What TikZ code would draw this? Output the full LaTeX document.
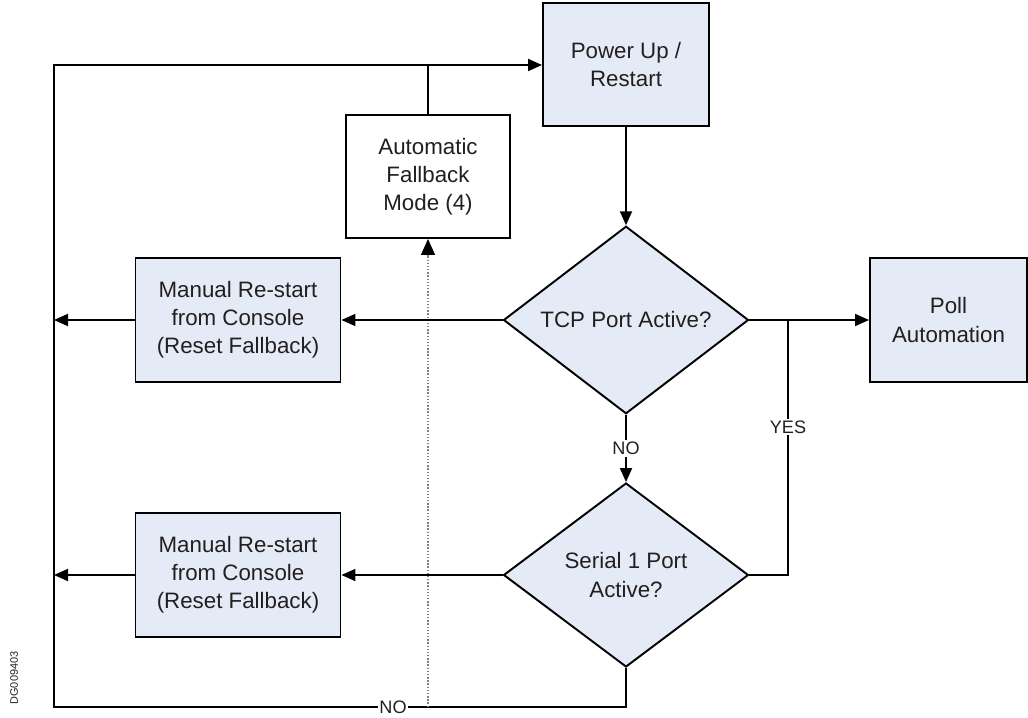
\documentclass[tikz,border=0pt]{standalone}
\usepackage{fontspec}
\setmainfont{Liberation Sans}
\usepackage{tikz}
\usetikzlibrary{shapes.geometric,arrows.meta}
\definecolor{boxblue}{RGB}{228,235,246}
\definecolor{txtgray}{RGB}{35,31,32}

\begin{document}
\begin{tikzpicture}[>={Triangle[length=2.8mm,width=2.4mm]},
		box_style/.style={rectangle,draw=black,line width=1.1pt,fill=boxblue,align=center,text=txtgray,font=\fontsize{12.7}{16}\selectfont,minimum width=4.1cm,minimum height=2.48cm,inner sep=0pt},
		box_style1/.style={box_style,fill=white,minimum width=3.28cm,minimum height=2.46cm},
		dec_style/.style={diamond,draw=black,line width=1.1pt,fill=boxblue,align=center,text=txtgray,font=\fontsize{12.7}{16}\selectfont,minimum width=4.9cm,minimum height=3.68cm,inner sep=0pt},
		lbl_style/.style={fill=white,inner sep=1pt,text=txtgray,font=\fontsize{10.3}{12}\selectfont},
		edge_style/.style={draw=black,line width=1.1pt}]

		\useasboundingbox (0,0) rectangle (20.56,14.34);

		\node[box_style,minimum width=3.32cm,minimum height=2.46cm] (power) at (12.52,13.05) {Power Up /\\Restart};
		\node[box_style1] (auto) at (8.56,10.81) {Automatic\\Fallback\\Mode (4)};
		\node[dec_style] (tcp) at (12.52,7.94) {TCP Port Active?};
		\node[dec_style] (serial) at (12.52,2.84) {Serial 1 Port\\Active?};
		\node[box_style] (man1) at (4.76,7.94) {Manual Re-start\\from Console\\(Reset Fallback)};
		\node[box_style] (man2) at (4.76,2.84) {Manual Re-start\\from Console\\(Reset Fallback)};
		\node[box_style,minimum width=3.14cm] (poll) at (18.97,7.94) {Poll\\Automation};

		\coordinate (tl) at (1.08,13.04);
		\coordinate (bl) at (1.08,0.2);
		\coordinate (yj) at (15.76,7.94);
		\coordinate (dot) at (8.56,0.2);

		% loops back to power up
		\draw[edge_style,->]  (serial.south) |- (bl) -- (tl) -- (power.west |- tl);
		\draw[edge_style]  (auto.north) -- (auto.north |- tl);
		\draw[densely dotted,gray,line width=0.8pt,-{Triangle[length=3.2mm,width=2.8mm,black]}]  (dot) -- (auto.south);
		\node[lbl_style] (nob) at (7.86,0.2) {NO};

		\draw[edge_style,->]  (power) -- (tcp.north);
		\draw[edge_style,->]  (tcp.south) -- node[lbl_style]{NO} (serial.north);
		\draw[edge_style,->]  (tcp.west) -- (man1.east);
		\draw[edge_style,->]  (serial.west) -- (man2.east);
		\draw[edge_style,->]  (man1.west) -- (man1.west -| tl);
		\draw[edge_style,->]  (man2.west) -- (man2.west -| tl);
		\draw[edge_style,->]  (tcp.east) -- (poll.west);
		\draw[edge_style]  (serial.east) -| node[lbl_style,pos=0.79]{YES} (yj);

		\node[rotate=90,text=txtgray,font=\fontsize{6.2}{7}\selectfont] (dg) at (0.28,0.78) {DG009403};

		\end{tikzpicture}
\end{document}
